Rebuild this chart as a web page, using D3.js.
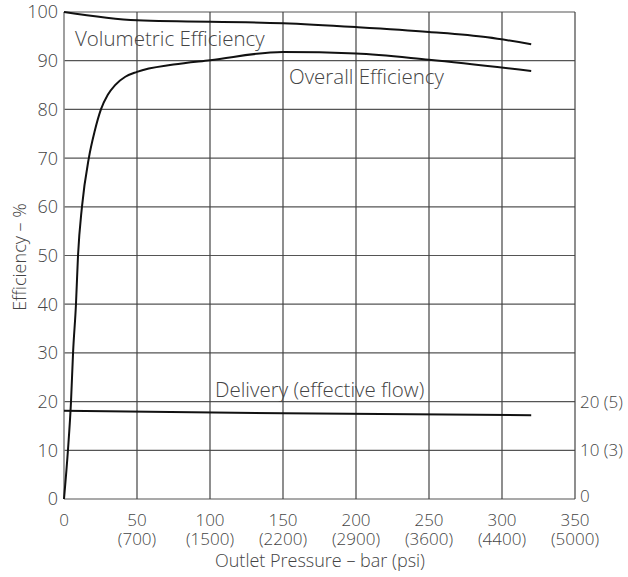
<!DOCTYPE html>
<html>
<head>
<meta charset="utf-8">
<script src="https://cdn.jsdelivr.net/npm/d3@7"></script>
<style>
  body { margin: 0; background: #fff; }
  text { font-family: "Open Sans", "Noto Sans", sans-serif; font-weight: 300; fill: #444; }
</style>
</head>
<body>
<div id="container"></div>
<script>
// pressure in bar, with psi in brackets
var pressureTicks = [0, 50, 100, 150, 200, 250, 300, 350],
    psiLabels = ['', '(700)', '(1500)', '(2200)', '(2900)', '(3600)', '(4400)', '(5000)'];

var effTicks = [0, 10, 20, 30, 40, 50, 60, 70, 80, 90, 100];

// right axis: delivery
var flowTicks = [0, 10, 20],
    flowLabels = ['0', '10 (3)', '20 (5)'];

var volP = [0, 50, 150, 200, 250, 290, 320],
    volEff = [100, 98.3, 97.7, 96.9, 95.9, 94.8, 93.4];

var overallP = [0, 2.7, 4.8, 6.2, 8.2, 9.6, 12.3, 17, 21, 25.3, 30, 35, 42, 50, 75, 100, 150, 200, 250, 320],
    overallEff = [0, 10, 20, 30, 40, 50, 60, 70, 75.5, 80, 83, 85, 86.7, 87.7, 89.2, 90.1, 91.8, 91.5, 90.2, 87.9];

var deliveryP = [0, 150, 320],
    delivery = [18.1, 17.6, 17.2];

var W = 628, H = 577;
var svg = d3.select('#container').append('svg')
    .attr('width', W).attr('height', H);

var x = d3.scaleLinear().domain([0, 350]).range([64, 575]),
    y = d3.scaleLinear().domain([0, 100]).range([499, 12]),
    yFlow = d3.scaleLinear().domain([0, 100]).range([499, 12]);

// grid
var grid = svg.append('g');
grid.selectAll('line.h')
  .data(effTicks)
  .enter().append('line')
    .attr('x1', x(0)).attr('x2', x(350))
    .attr('y1', function(d) { return y(d); })
    .attr('y2', function(d) { return y(d); })
    .style('stroke', '#555').style('stroke-width', 1.2);
grid.selectAll('line.v')
  .data(pressureTicks)
  .enter().append('line')
    .attr('y1', y(0)).attr('y2', y(100))
    .attr('x1', function(d) { return x(d); })
    .attr('x2', function(d) { return x(d); })
    .style('stroke', function(d) { return d == 0 ? '#888' : '#444'; })
    .style('stroke-width', function(d) { return d == 0 ? 1.6 : 1.2; });

// left axis labels
svg.append('g').selectAll('text')
  .data(effTicks)
  .enter().append('text')
    .attr('x', 58)
    .attr('y', function(d) { return y(d); })
    .attr('dy', '0.36em')
    .attr('text-anchor', 'end')
    .style('font-size', '18px')
    .text(function(d) { return d; });

// bottom labels: bar on first line, psi below (one text each)
var bt = svg.append('g').selectAll('text')
  .data(pressureTicks)
  .enter().append('text')
    .attr('text-anchor', 'middle')
    .style('font-size', '17px');
bt.append('tspan')
    .attr('x', function(d) { return x(d); })
    .attr('y', 526)
    .text(function(d) { return d; });
bt.append('tspan')
    .attr('x', function(d) { return x(d); })
    .attr('y', 545)
    .text(function(d, i) { return psiLabels[i]; });

// right axis labels
svg.append('g').selectAll('text')
  .data(flowTicks)
  .enter().append('text')
    .attr('x', 580)
    .attr('y', function(d) { return yFlow(d) - (d == 0 ? 3 : 0); })
    .attr('dy', '0.36em')
    .style('font-size', '17px')
    .text(function(d, i) { return flowLabels[i]; });

// titles
svg.append('text')
    .attr('x', 320).attr('y', 567)
    .attr('text-anchor', 'middle')
    .style('font-size', '18px')
    .text('Outlet Pressure – bar (psi)');
svg.append('text')
    .attr('transform', 'translate(26,257) rotate(-90)')
    .attr('text-anchor', 'middle')
    .style('font-size', '18px')
    .text('Efficiency – %');

// curves
var line = d3.line()
    .x(function(d) { return x(d[0]); })
    .y(function(d) { return y(d[1]); });

svg.append('path')
    .datum(d3.zip(volP, volEff))
    .attr('d', line.curve(d3.curveMonotoneX))
    .style('fill', 'none').style('stroke', '#111').style('stroke-width', 2);

svg.append('path')
    .datum(d3.zip(overallP, overallEff))
    .attr('d', line.curve(d3.curveMonotoneX))
    .style('fill', 'none').style('stroke', '#111').style('stroke-width', 2);

var flowLine = d3.line()
    .x(function(d) { return x(d[0]); })
    .y(function(d) { return yFlow(d[1]); });
svg.append('path')
    .datum(d3.zip(deliveryP, delivery))
    .attr('d', flowLine)
    .style('fill', 'none').style('stroke', '#111').style('stroke-width', 2);

// curve labels
var labels = [
  { t: 'Volumetric Efficiency', x: 75, y: 46 },
  { t: 'Overall Efficiency', x: 289, y: 84 },
  { t: 'Delivery (effective flow)', x: 215, y: 397 }
];
svg.append('g').selectAll('text')
  .data(labels)
  .enter().append('text')
    .attr('x', function(d) { return d.x; })
    .attr('y', function(d) { return d.y; })
    .style('font-size', '20.5px')
    .text(function(d) { return d.t; });
</script>
</body>
</html>
